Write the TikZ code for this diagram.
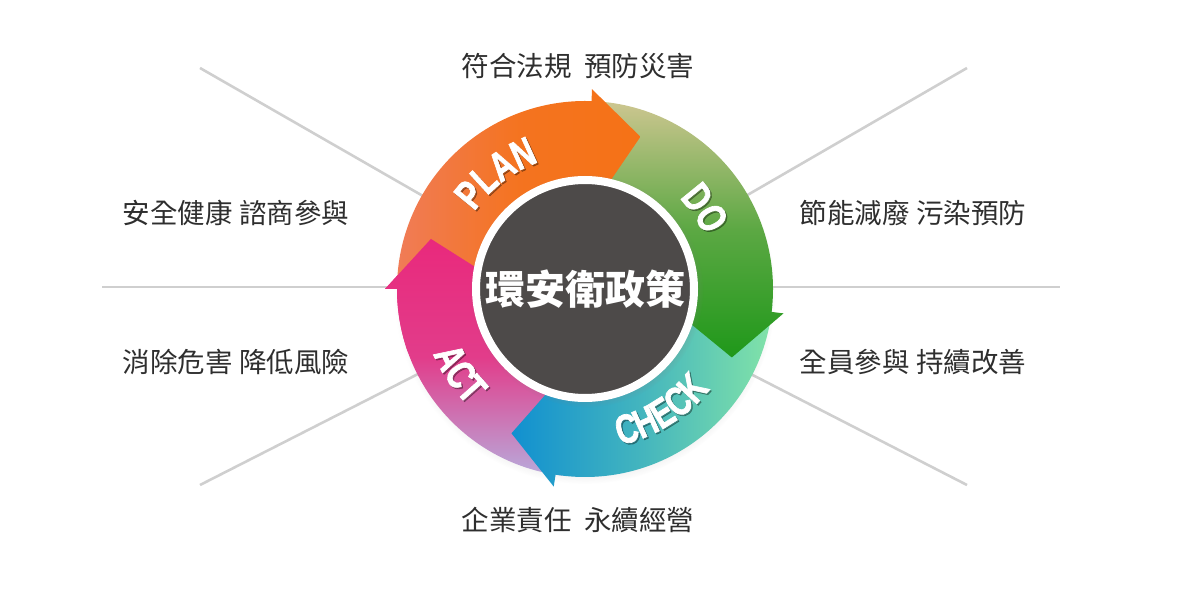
\documentclass[tikz,border=0pt]{standalone}
\usepackage{fontspec}
\newfontfamily\cjk{Noto Sans CJK TC}
\newfontfamily\pdcafont[FakeStretch=0.74,BoldFeatures={FakeBold=1.6}]{Liberation Sans}
\usetikzlibrary{calc,shadows,decorations.text}

\definecolor{linegray}{HTML}{CFCFCF}
\definecolor{labelgray}{HTML}{2E2E2E}
\definecolor{hubgray}{HTML}{4D4A49}
\definecolor{planA}{HTML}{F07C58}
\definecolor{planB}{HTML}{F57216}
\definecolor{doA}{HTML}{CDC690}
\definecolor{doB}{HTML}{1F981A}
\definecolor{checkA}{HTML}{1190D0}
\definecolor{checkB}{HTML}{82E3A8}
\definecolor{actA}{HTML}{E9297C}
\definecolor{actB}{HTML}{B8AADB}

% one arrow of the ring: #1 start angle, #2 angle of the back of its head
\newcommand{\ringarrow}[2]{($(C)+(#1:188)$) arc[start angle=#1,end angle=#2,radius=188]
  -- ($(C)+(#2:200)$) -- ($(C)+(#2-18:162)$) -- ($(C)+(#2:75)$)
  -- ($(C)+(#2:104)$) arc[start angle=#2,end angle=#1,radius=104] -- cycle}

\tikzset{
  ray/.style={draw=linegray,line width=2.6pt},
  goal/.style={text=labelgray,font=\cjk\fontsize{27.5}{32}\selectfont,inner sep=0pt},
  hub/.style={circle,fill=hubgray,draw=white,line width=8pt,minimum size=218pt,inner sep=0pt,
    text=white,font=\cjk\bfseries\fontsize{40}{44}\selectfont,
    circular drop shadow={shadow xshift=1.5pt,shadow yshift=-1.5pt,shadow scale=1.07,opacity=.45}},
  pdca word/.style={decorate,decoration={text along path,text align=center,text color=white,
    text={|\pdcafont\bfseries\fontsize{41}{41}\selectfont|#1}}},
  pdca shade/.style={decorate,decoration={text along path,text align=center,text color=black,
    text={|\pdcafont\bfseries\fontsize{41}{41}\selectfont|#1}}},
}

\begin{document}
\begin{tikzpicture}[x=1pt,y=1pt]
\useasboundingbox (0,0) rectangle (1200,600);
\coordinate (C) at (585,311);
\coordinate (Cs) at (586.5,309.5);
% ================= rays =================
\coordinate (rayW) at (102,313);
\coordinate (rayE) at (1060,313);
\coordinate (rayNW) at (200,532);
\coordinate (rayNE) at (967,532);
\coordinate (raySW) at (200,115);
\coordinate (raySE) at (967,115);
\draw[ray] (rayW) -- (rayE);
\foreach \r in {rayNW,rayNE,raySW,raySE}
  \draw[ray] (\r) -- (C);
% ================= ring =================
\fill[white,circular drop shadow={shadow xshift=0pt,shadow yshift=-4pt,shadow scale=1.02,opacity=.3}]
  (C) circle[radius=187];
\shade[top color=actA,bottom color=actB,middle color=actA!85!actB] \ringarrow{-97}{-180};
\shade[left color=checkA,right color=checkB,middle color=checkA!55!checkB] \ringarrow{-5}{-99};
\shade[top color=doA,bottom color=doB,middle color=doA!35!doB] \ringarrow{90}{-7};
\shade[left color=planA,right color=planB,middle color=planB!85!planA] \ringarrow{182}{88};
% head of ACT lies on top of PLAN
\begin{scope}
\clip (C) -- ($(C)+(150:230)$) arc[start angle=150,end angle=200,radius=230] -- cycle;
\shade[top color=actA,bottom color=actB,middle color=actA!85!actB] \ringarrow{-97}{-180};
\end{scope}
% ================= hub =================
\node[hub] (policy) at (C) {環安衛政策};
% ================= PDCA words =================
\begin{scope}[opacity=.3]
\path[pdca shade=PLAN] ($(Cs)+(160:135)$) arc[start angle=160,end angle=95,radius=135];
\path[pdca shade=DO] ($(Cs)+(58:131)$) arc[start angle=58,end angle=10,radius=131];
\path[pdca shade=CHECK] ($(Cs)+(-92:160)$) arc[start angle=-92,end angle=-24,radius=160];
\path[pdca shade=ACT] ($(Cs)+(182:165)$) arc[start angle=182,end angle=246,radius=165];
\end{scope}
\path[pdca word=PLAN] ($(C)+(160:135)$) arc[start angle=160,end angle=95,radius=135];
\path[pdca word=DO] ($(C)+(58:131)$) arc[start angle=58,end angle=10,radius=131];
\path[pdca word=CHECK] ($(C)+(-92:160)$) arc[start angle=-92,end angle=-24,radius=160];
\path[pdca word=ACT] ($(C)+(182:165)$) arc[start angle=182,end angle=246,radius=165];
% ================= goals =================
\node[goal] (goalN) at (578,534) {符合法規\hspace{.45em}預防災害};
\node[goal] (goalNW) at (236,387) {安全健康 諮商參與};
\node[goal] (goalNE) at (913,387) {節能減廢 污染預防};
\node[goal] (goalSW) at (236,238) {消除危害 降低風險};
\node[goal] (goalSE) at (913,238) {全員參與 持續改善};
\node[goal] (goalS) at (578,80) {企業責任\hspace{.45em}永續經營};
\end{tikzpicture}
\end{document}
